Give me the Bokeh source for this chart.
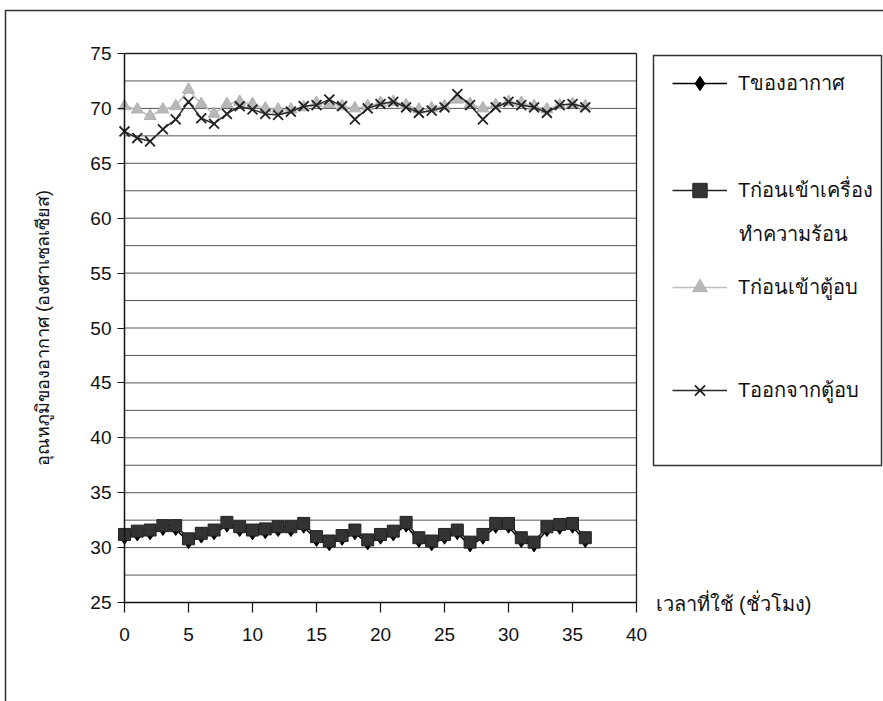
from bokeh.plotting import figure
from bokeh.models import FixedTicker, Legend, LegendItem, Label, BoxAnnotation, Range1d
from bokeh.embed import file_html
from bokeh.resources import INLINE

hours = list(range(37))

t_air = [30.9, 31.2, 31.3, 31.7, 31.7, 30.5, 31.0, 31.3, 32.0, 31.6, 31.3, 31.4, 31.6,
         31.6, 31.9, 30.7, 30.3, 30.8, 31.3, 30.4, 30.9, 31.2, 32.0, 30.6, 30.3, 30.9,
         31.3, 30.2, 30.9, 31.9, 31.9, 30.6, 30.2, 31.6, 31.8, 31.9, 30.6]

t_before_heater = [31.2, 31.5, 31.6, 32.0, 32.0, 30.8, 31.3, 31.6, 32.3, 31.9, 31.6, 31.7, 31.9,
                   31.9, 32.2, 31.0, 30.6, 31.1, 31.6, 30.7, 31.2, 31.5, 32.3, 30.9, 30.6, 31.2,
                   31.6, 30.5, 31.2, 32.2, 32.2, 30.9, 30.5, 31.9, 32.1, 32.2, 30.9]

t_before_oven = [70.2, 69.9, 69.3, 69.9, 70.2, 71.7, 70.4, 69.5, 70.4, 70.6, 70.4, 70.0, 69.9,
                 69.9, 70.1, 70.5, 70.4, 70.2, 70.0, 70.2, 70.5, 70.6, 70.3, 69.9, 70.0, 70.2,
                 70.8, 70.4, 70.0, 70.3, 70.6, 70.5, 70.2, 69.9, 70.3, 70.4, 70.2]

t_out_oven = [67.9, 67.3, 67.0, 68.1, 69.0, 70.6, 69.1, 68.6, 69.5, 70.2, 69.9, 69.5, 69.4,
              69.7, 70.2, 70.3, 70.8, 70.2, 69.0, 70.0, 70.4, 70.6, 70.1, 69.6, 69.8, 70.1,
              71.3, 70.3, 69.0, 70.1, 70.6, 70.3, 70.1, 69.6, 70.3, 70.4, 70.1]

x_ticks = [0, 5, 10, 15, 20, 25, 30, 35, 40]
y_ticks = [25, 30, 35, 40, 45, 50, 55, 60, 65, 70, 75]
grid_levels = [27.5, 30, 32.5, 35, 37.5, 40, 42.5, 45, 47.5, 50, 52.5, 55, 57.5,
               60, 62.5, 65, 67.5, 70, 72.5]
x_min, x_max = 0, 40
y_min, y_max = 25, 75

labels = ["Tของอากาศ", "Tก่อนเข้าเครื่อง", "Tก่อนเข้าตู้อบ", "Tออกจากตู้อบ"]
label2_second_line = "ทำความร้อน"
x_title = "เวลาที่ใช้ (ชั่วโมง)"
y_title = "อุณหภูมิของอากาศ (องศาเซลเซียส)"

NUM_FONT = "Liberation Sans"
THAI_FONT = "Liberation Sans"

W, H = 883, 701
# pixel placement of the plotting area (x=0 -> 124px, x=40 -> 636px, y=25 -> 602px, y=75 -> 53px)
PX0, PX1 = 124, 636
PY0, PY1 = 602, 53
SX = (PX1 - PX0) / (x_max - x_min)
SY = (PY0 - PY1) / (y_max - y_min)


def dx(px):
    return x_min + (px - PX0) / SX


def dy(py):
    return y_min + (PY0 - py) / SY


p = figure(width=W, height=H, x_range=Range1d(dx(0), dx(W)), y_range=Range1d(dy(H), dy(0)),
           output_backend="svg", toolbar_location=None,
           min_border=0, min_border_left=0, min_border_right=0, min_border_top=0,
           min_border_bottom=0)
p.background_fill_color = "white"
p.border_fill_color = "white"
p.outline_line_color = None
p.xgrid.visible = False
p.ygrid.visible = False

xa = p.xaxis[0]
ya = p.yaxis[0]
xa.fixed_location = y_min
ya.fixed_location = x_min
xa.bounds = (x_min, x_max)
ya.bounds = (y_min, y_max)
xa.ticker = FixedTicker(ticks=x_ticks)
ya.ticker = FixedTicker(ticks=y_ticks)

for ax in (xa, ya):
    ax.axis_line_color = "#111111"
    ax.axis_line_width = 1.5
    ax.major_tick_line_color = "#111111"
    ax.major_tick_line_width = 1.2
    ax.major_tick_in = 0
    ax.minor_tick_line_color = None
    ax.major_label_text_font = NUM_FONT
    ax.major_label_text_font_size = "19px"
    ax.major_label_text_color = "#111111"

xa.major_tick_out = 10
xa.major_label_standoff = 15
ya.major_tick_out = 7
ya.major_label_standoff = 6

ya.axis_label = y_title
ya.axis_label_text_font = THAI_FONT
ya.axis_label_text_font_style = "normal"
ya.axis_label_text_font_size = "18px"
ya.axis_label_text_color = "#111111"
ya.axis_label_standoff = 34

# horizontal grid lines and the top / right border of the plotting area
n = len(grid_levels)
p.segment(x0=[x_min] * n, x1=[x_max] * n, y0=grid_levels, y1=grid_levels,
          line_color="#555555", line_width=1)
p.segment(x0=[x_min, x_max], x1=[x_max, x_max], y0=[y_max, y_min], y1=[y_max, y_max],
          line_color="#222222", line_width=1.3)

# series
l1 = p.line(hours, t_air, line_color="black", line_width=1.6)
m1 = p.scatter(hours, t_air, marker="diamond", size=13, fill_color="black", line_color="black")
l2 = p.line(hours, t_before_heater, line_color="#222222", line_width=1.6)
m2 = p.scatter(hours, t_before_heater, marker="square", size=12, fill_color="#333333",
               line_color="#222222")
l3 = p.line(hours, t_before_oven, line_color="#bdbdbd", line_width=1.5)
m3 = p.scatter(hours, t_before_oven, marker="triangle", size=12, fill_color="#b8b8b8",
               line_color="#b0b0b0")
l4 = p.line(hours, t_out_oven, line_color="#2a2a2a", line_width=1.5)
m4 = p.scatter(hours, t_out_oven, marker="x", size=14, line_color="#222222", line_width=1.8)

# outer page frame and legend box
p.add_layout(BoxAnnotation(left=dx(5), right=dx(W + 40), top=dy(10), bottom=dy(H + 40),
                           fill_alpha=0, line_color="#333333", line_alpha=1, line_width=1.5))
p.add_layout(BoxAnnotation(left=dx(653), right=dx(881), top=dy(55), bottom=dy(465),
                           fill_alpha=0, line_color="#333333", line_alpha=1, line_width=1.5))

centers = [83, 190, 287, 390]
groups = [[l1, m1], [l2, m2], [l3, m3], [l4, m4]]
for lab, grp, c in zip(labels, groups, centers):
    lg = Legend(items=[LegendItem(label=lab, renderers=grp)],
                location=(672, H - (c + 18)),
                glyph_width=55, glyph_height=36, label_height=36, label_standoff=11,
                padding=0, margin=0, spacing=0,
                border_line_color=None, background_fill_alpha=0,
                label_text_font=THAI_FONT, label_text_font_size="20px",
                label_text_color="#111111")
    p.add_layout(lg, "center")

p.add_layout(Label(x=dx(738), y=dy(233), text=label2_second_line, text_font=THAI_FONT,
                   text_font_size="20px", text_baseline="middle", text_color="#111111"))
p.add_layout(Label(x=dx(655), y=dy(603), text=x_title, text_font=THAI_FONT,
                   text_font_size="20px", text_baseline="middle", text_color="#111111"))

open("out.html", "w").write(file_html(p, INLINE))
